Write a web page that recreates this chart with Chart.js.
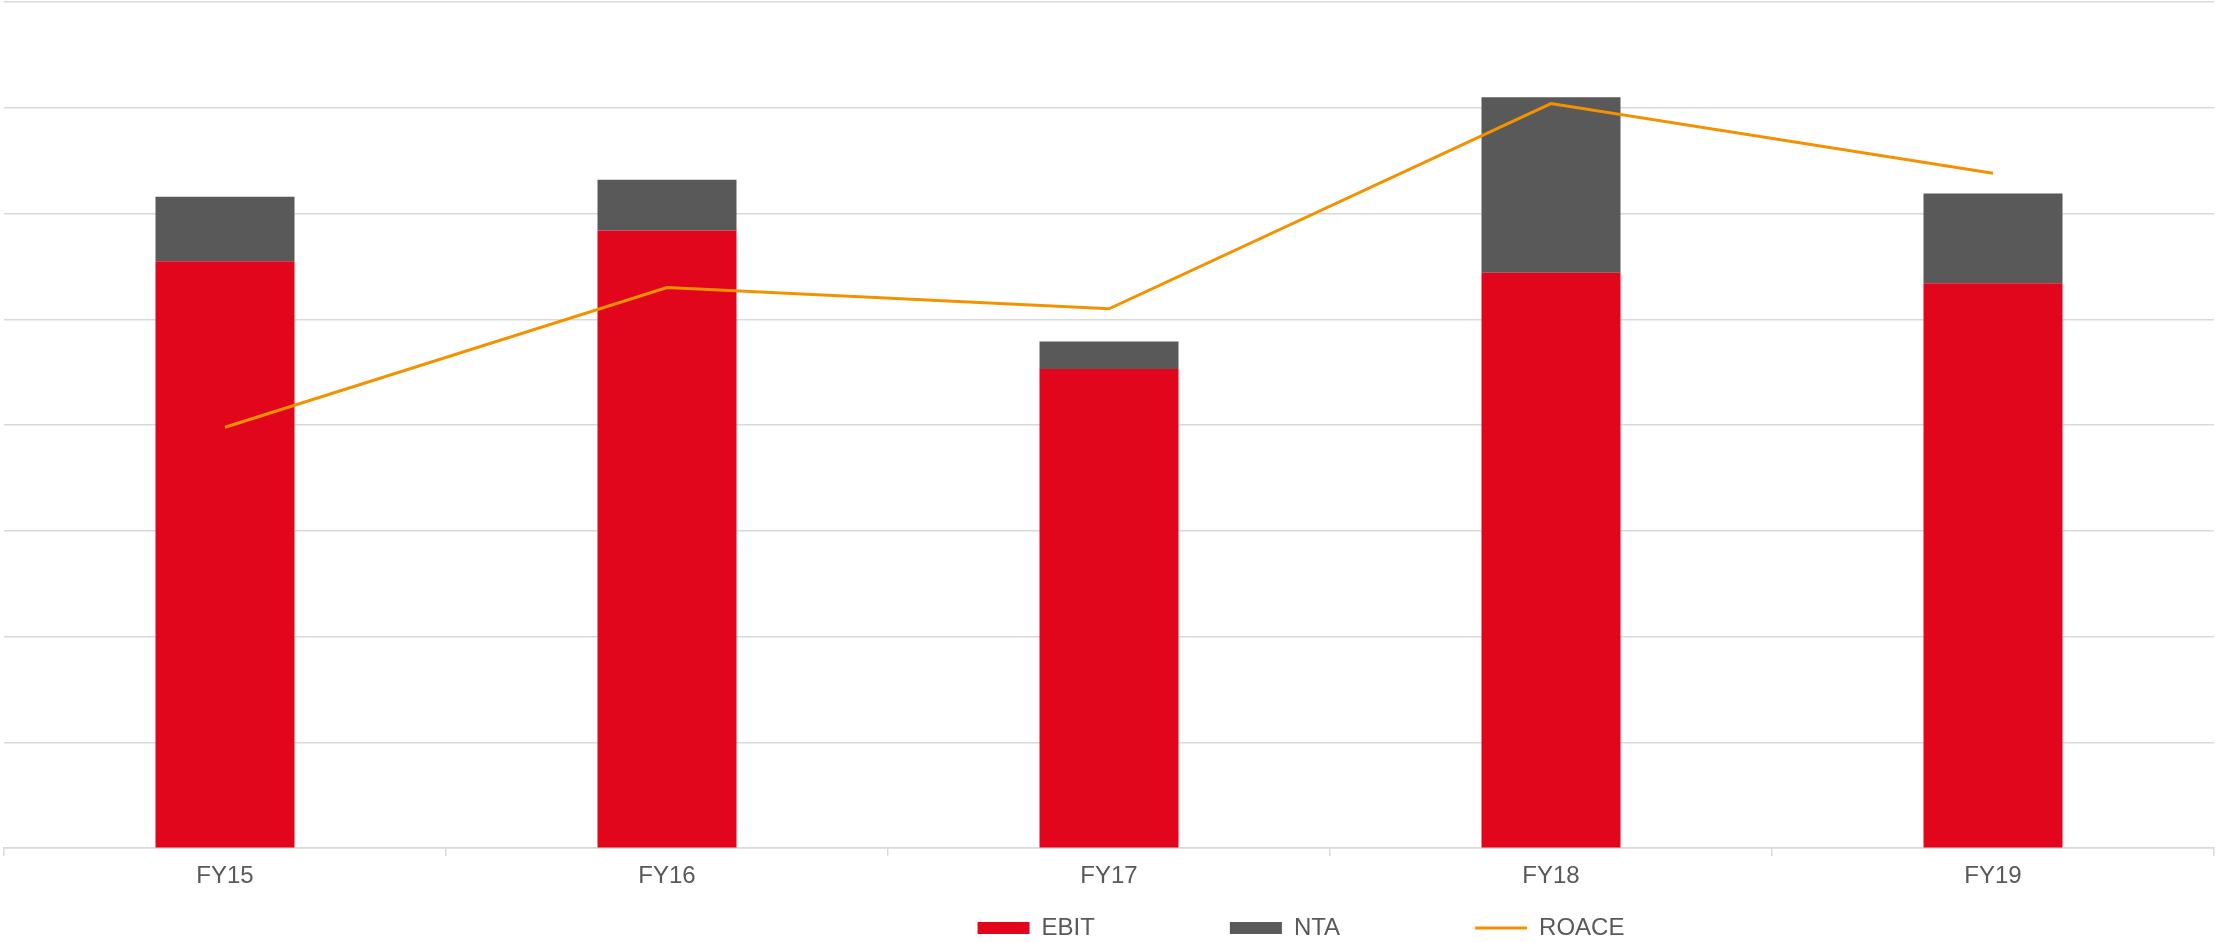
<!DOCTYPE html>
<html>
<head>
<meta charset="utf-8">
<script src="https://cdn.jsdelivr.net/npm/chart.js@4/dist/chart.umd.min.js"></script>
<style>
  html, body { margin: 0; padding: 0; background: #fff; }
  #wrap { width: 2216px; height: 943px; position: relative; }
</style>
</head>
<body>
<div id="wrap"><canvas id="grafico"></canvas></div>
<script>
/* datos */
const CATEGORIAS = ["FY15", "FY16", "FY17", "FY18", "FY19"]
const EBIT  = [555, 584, 453, 544, 534]
const NTA   = [61, 48, 26, 166, 85]
const ROACE = [19.9, 26.5, 25.5, 35.2, 31.9]

const ROJO    = "#E2061D"
const GRIS    = "#595959"
const NARANJA = "#F39200"
const TEXTO   = "#595959"
const REJILLA = "#D9D9D9"

Chart.defaults.font.family = "'Liberation Sans', Arial, sans-serif"
Chart.defaults.color = TEXTO

// desplaza la leyenda como en el original (no centrada)
const moverLeyenda = {
  id: "moverLeyenda",
  afterLayout(chart) {
    const l = chart.legend
    const pad = l.options.labels.padding
    l.left += 192
    l.right += 192
    l.top -= pad - 19
    l.bottom -= pad - 19
  }
}

new Chart(document.getElementById("grafico"), {
  data: {
    labels: CATEGORIAS,
    datasets: [
      {
        type: "bar",
        label: "EBIT",
        data: EBIT,
        backgroundColor: ROJO,
        stack: "s",
        order: 1,
        pointStyle: "rect",
        borderWidth: 0,
      },
      {
        type: "bar",
        label: "NTA",
        data: NTA,
        backgroundColor: GRIS,
        stack: "s",
        order: 1,
        pointStyle: "rect",
        borderWidth: 0,
      },
      {
        type: "line",
        label: "ROACE",
        data: ROACE,
        yAxisID: "y1",
        borderColor: NARANJA,
        backgroundColor: NARANJA,
        borderWidth: 3,
        pointRadius: 0,
        pointStyle: "line",
        tension: 0,
        order: 0,
      }
    ]
  },
  options: {
    responsive: true,
    maintainAspectRatio: false,
    animation: false,
    datasets: {
      bar: { categoryPercentage: 1, barPercentage: 0.3145 }
    },
    layout: { padding: { left: 4, right: 2, top: 2, bottom: -123 } },
    plugins: {
      tooltip: { enabled: false },
      legend: {
        position: "bottom",
        labels: {
          usePointStyle: true,
          pointStyleWidth: 52,
          boxHeight: 12,
          padding: 135,
          font: { size: 24 },
          color: TEXTO,
          sort: (a, b) => a.datasetIndex - b.datasetIndex,
        }
      }
    },
    scales: {
      x: {
        stacked: true,
        grid: {
          offset: true,
          drawOnChartArea: false,
          drawTicks: true,
          tickLength: 8,
          color: REJILLA,
          lineWidth: 1.5,
        },
        border: { color: REJILLA, width: 1.5 },
        ticks: { font: { size: 24 }, color: TEXTO, padding: 6 }
      },
      y: {
        stacked: true,
        min: 0,
        max: 800,
        ticks: { stepSize: 100, display: false },
        grid: { color: REJILLA, lineWidth: 1.5, drawTicks: false },
        border: { display: false }
      },
      y1: {
        display: false,
        min: 0,
        max: 40,
      }
    }
  },
  plugins: [moverLeyenda]
})
</script>
</body>
</html>
